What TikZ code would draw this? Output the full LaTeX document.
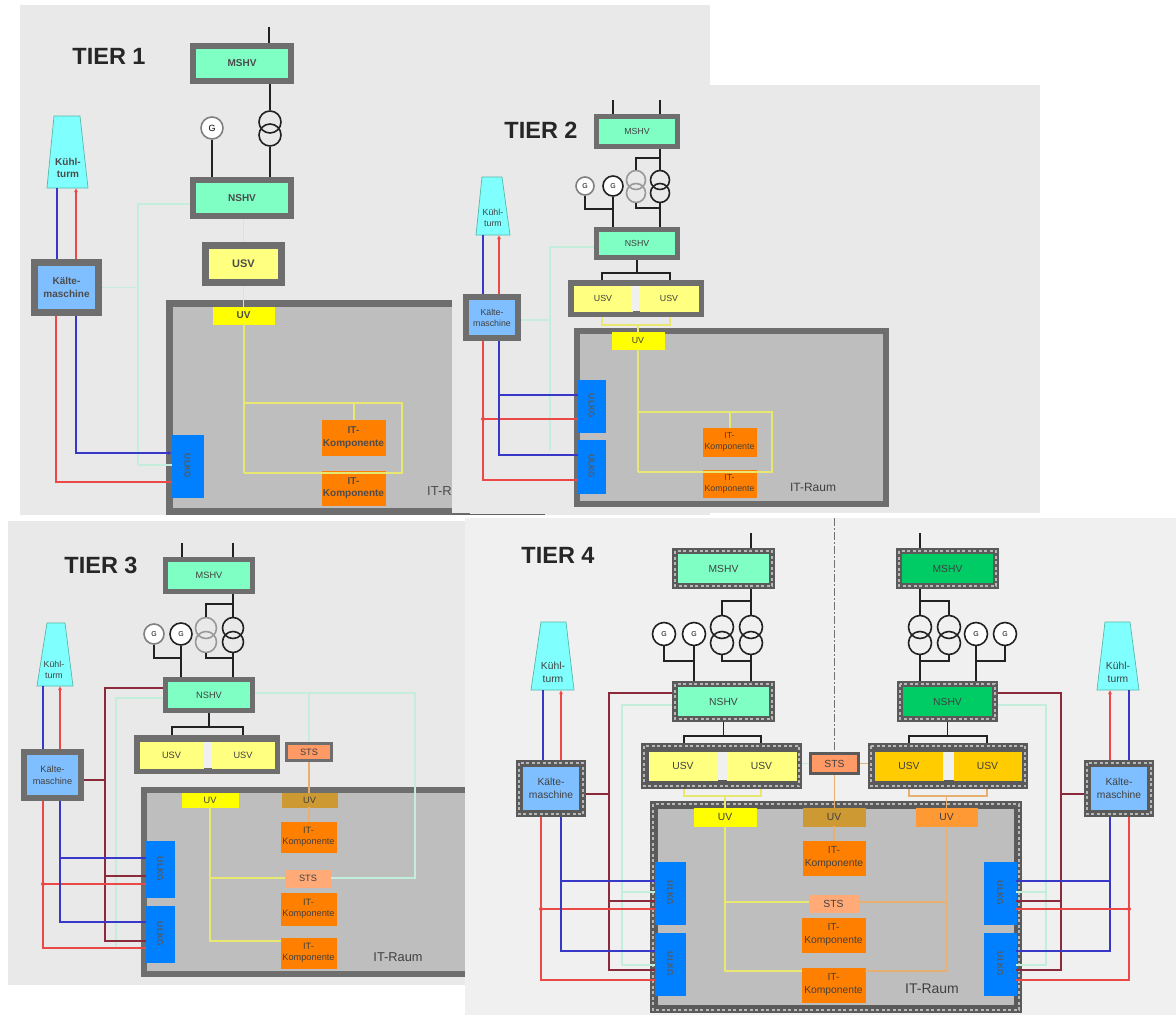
\documentclass[tikz,border=0pt]{standalone}
\usepackage{fontspec}
\setmainfont{Liberation Sans}
\usetikzlibrary{arrows.meta,calc,shapes.geometric}
\definecolor{pA}{HTML}{E9E9E9}
\definecolor{pB}{HTML}{F0F0F0}
\definecolor{frm}{HTML}{6E6E6E}
\definecolor{frmd}{HTML}{5A5A5A}
\definecolor{room}{HTML}{BEBEBE}
\definecolor{mint}{HTML}{7FFFC4}
\definecolor{dgreen}{HTML}{00CC66}
\definecolor{lyel}{HTML}{FFFF80}
\definecolor{yel}{HTML}{FFFF00}
\definecolor{gold}{HTML}{FFCC00}
\definecolor{brn}{HTML}{CC9933}
\definecolor{org}{HTML}{FF8000}
\definecolor{lorg}{HTML}{FF9933}
\definecolor{sal}{HTML}{FF9966}
\definecolor{lsal}{HTML}{FFAA77}
\definecolor{coolb}{HTML}{0080FF}
\definecolor{kalt}{HTML}{80BFFF}
\definecolor{turm}{HTML}{80FFFF}
\definecolor{turmd}{HTML}{58B8A8}
\definecolor{wgreen}{HTML}{C4EEDC}
\definecolor{wyel}{HTML}{E8E870}
\definecolor{worg}{HTML}{E8B070}
\definecolor{wred}{HTML}{EC4848}
\definecolor{wblue}{HTML}{3838C8}
\definecolor{wbrn}{HTML}{8B2A3A}
\definecolor{wblk}{HTML}{222222}
\tikzset{
 panelA/.style={fill=pA,draw=none},
 panelB/.style={fill=pB,draw=none},
 tierlabel/.style={font=\bfseries\fontsize{23.5}{25}\selectfont,text=black!85,inner sep=0pt},
 lblA/.style={font=\bfseries\fontsize{10}{12.5}\selectfont,text=black!70,align=center,inner sep=0pt},
 lblB/.style={font=\fontsize{8.8}{11}\selectfont,text=black!75,align=center,inner sep=0pt},
 lblC/.style={font=\fontsize{9.2}{11.5}\selectfont,text=black!75,align=center,inner sep=0pt},
 lblD/.style={font=\fontsize{10.3}{13}\selectfont,text=black!75,align=center,inner sep=0pt},
 ullbl/.style={font=\bfseries\fontsize{8.5}{9}\selectfont,text=black!65,inner sep=0pt},
 blk/.style={draw=wblk,line width=1.5pt},
 gw/.style={draw=wgreen,line width=1.7pt},
 yw/.style={draw=wyel,line width=2pt},
 ow/.style={draw=worg,line width=1.7pt},
 rw/.style={draw=wred,line width=1.5pt},
 bw/.style={draw=wblue,line width=1.5pt},
 dw/.style={draw=wbrn,line width=1.4pt},
 up/.style={-{Latex[length=4pt,width=4pt]}},
 gen/.style={circle,draw=#1,line width=1.6pt,fill=white,inner sep=0pt},
 gen/.default=wblk,
 trf/.style={circle,draw=#1,line width=1.6pt,inner sep=0pt},
 trf/.default=wblk,
 ktower/.style={fill=turm,draw=turmd,line width=.7pt},
 hatch/.style={draw=black!28,line width=1.3pt,dash pattern=on 3pt off 2.5pt}
}
\newcommand{\bx}[9]{\pgfmathsetmacro{\bxw}{#4-#2-#6}\pgfmathsetmacro{\bxh}{#5-#3-#6}%
 \pgfmathsetmacro{\bxcx}{(#2+#4)/2}\pgfmathsetmacro{\bxcy}{(#3+#5)/2}%
 \node[rectangle,draw=#7,line width=#6pt,fill=#8,minimum width=\bxw pt,minimum height=\bxh pt,inner sep=0pt,#9] (#1) at (\bxcx,\bxcy)}
\newcommand{\ulk}[5]{\bx{#1}{#2}{#3}{#4}{#5}{0}{coolb}{coolb}{}{};
 \node[ullbl,rotate=-90] (#1l) at (#1) {ULKG};}
\newcommand{\htc}[1]{\draw[hatch] ([xshift=3pt,yshift=-3pt]#1.north west) rectangle ([xshift=-3pt,yshift=3pt]#1.south east);}
\begin{document}
\begin{tikzpicture}[x=1pt,y=-1pt]
\useasboundingbox (0,0) rectangle (1176,1015);
\fill[white] (0,0) rectangle (1176,1015);
% ========== TIER 1 ==========
\fill[panelA] (20,5) rectangle (710,515);
\node[tierlabel] (t1lab) at (109,56) {TIER 1};
\bx{t1room}{166}{300}{470}{515}{7}{frm}{room}{}{};
\node[lblA,font=\fontsize{13}{14}\selectfont,anchor=west] (t1rl) at (427,491) {IT-Raum};
\bx{t1ms}{190}{43}{294}{84}{6}{frm}{mint}{lblA}{MSHV};
\bx{t1ns}{190}{177}{294}{219}{6}{frm}{mint}{lblA}{NSHV};
\bx{t1us}{202}{242}{285}{286}{7}{frm}{lyel}{lblA,font=\bfseries\fontsize{11}{12}\selectfont}{USV};
\bx{t1uv}{213}{307}{274}{324}{0}{yel}{yel}{lblA}{UV};
\ulk{t1ul}{172}{435}{203}{497}
\bx{t1it1}{322}{420}{385}{455}{0}{org}{org}{lblA}{IT-\\Komponente};
\bx{t1it2}{322}{471}{385}{505}{0}{org}{org}{lblA}{IT-\\Komponente};
\bx{t1ka}{31}{259}{102}{316}{7}{frm}{kalt}{lblA}{Kälte-\\maschine};
\filldraw[ktower] (54,116) -- (80,116) -- (88,188) -- (47,188) -- cycle;
\node[lblA] (t1ku) at (68,168) {Kühl-\\turm};
\coordinate (t1in) at (269,27);
\node[gen=black!50,minimum size=22pt] (t1g) at (212,128) {\fontsize{9}{9}\selectfont G};
\node[trf,minimum size=22pt] (t1ta) at (270,122) {};
\node[trf,minimum size=22pt] (t1tb) at (270,135) {};
\draw[blk] (t1in) -- (t1in |- t1ms.north);
\draw[blk] (t1ms.south -| t1ta) -- (t1ta.north);
\draw[blk] (t1tb.south) -- (t1ns.north -| t1tb);
\draw[blk] (t1g.south) -- (t1ns.north -| t1g);
\draw[gw] (t1ns.south -| t1uv) -- (t1us.north -| t1uv);
\draw[gw] (t1us.south -| t1uv) -- (t1uv.north);
\draw[gw] (t1ns.west |- 0,204) -- (138,204) -- (138,465) -- (t1ul.west |- 0,465);
\draw[gw] (t1ka.east) -- (t1ka.east -| 138,0);
\draw[bw] (57,188) -- (t1ka.north -| 57,0);
\draw[rw,up] (t1ka.north -| 76,0) -- (76,188);
\draw[rw] (t1ka.south -| 56,0) -- (56,482) -- (t1ul.west |- 0,482);
\draw[bw,up] (t1ka.south -| 76,0) -- (76,453) -- (t1ul.west |- 0,453);
\draw[yw] (t1uv.south) -- (t1uv.south |- 0,473);
\draw[yw] (t1uv.south |- 0,473) -- (402,473) -- (402,403) -- (t1uv.south |- 0,403);
\draw[yw] (t1it1.north |- 0,403) -- (t1it1.north);
% ========== TIER 2 ==========
\fill[panelA] (452,85) rectangle (1040,513);
\draw[wblk!70,line width=1pt] (452,514) -- (545,514);
\node[tierlabel] (t2lab) at (541,130) {TIER 2};
\bx{t2room}{574}{328}{889}{507}{6}{frm}{room}{}{};
\node[lblB,font=\fontsize{12}{13}\selectfont] (t2rl) at (813,487) {IT-Raum};
\bx{t2ms}{594}{114}{680}{149}{5}{frm}{mint}{lblB}{MSHV};
\bx{t2ns}{594}{227}{680}{260}{5}{frm}{mint}{lblB}{NSHV};
\bx{t2ug}{568}{280}{704}{317}{6}{frm}{frm}{}{};
\bx{t2u1}{574}{286}{632}{311}{0}{lyel}{lyel}{lblB}{USV};
\bx{t2u2}{640}{286}{698}{311}{0}{lyel}{lyel}{lblB}{USV};
\fill[pB] (632,286) rectangle (640,311);
\bx{t2uv}{612}{332}{664}{349}{0}{yel}{yel}{lblB}{UV};
\ulk{t2ul1}{578}{380}{605}{432}
\ulk{t2ul2}{578}{440}{605}{493}
\bx{t2it1}{703}{428}{756}{456}{0}{org}{org}{lblB}{IT-\\Komponente};
\bx{t2it2}{703}{470}{756}{497}{0}{org}{org}{lblB}{IT-\\Komponente};
\bx{t2ka}{463}{294}{521}{341}{6}{frm}{kalt}{lblB}{Kälte-\\maschine};
\filldraw[ktower] (482,177) -- (502,177) -- (510,235) -- (476,235) -- cycle;
\node[lblB] (t2ku) at (493,218) {Kühl-\\turm};
\coordinate (t2in1) at (613,100);
\coordinate (t2in2) at (660,100);
\node[gen=black!50,minimum size=18pt] (t2g1) at (585,186) {\fontsize{7}{7}\selectfont G};
\node[gen,minimum size=20pt] (t2g2) at (613,186) {\fontsize{7}{7}\selectfont G};
\node[trf=black!40,minimum size=19pt] (t2ta1) at (636,180) {};
\node[trf=black!40,minimum size=19pt] (t2tb1) at (636,193) {};
\node[trf,minimum size=19pt] (t2ta2) at (660,180) {};
\node[trf,minimum size=19pt] (t2tb2) at (660,193) {};
\draw[blk] (t2in1) -- (t2ms.north -| t2in1);
\draw[blk] (t2in2) -- (t2ms.north -| t2in2);
\draw[blk] (t2ms.south -| t2ta2) -- (t2ta2.north);
\draw[blk,line width=1.2pt] (t2ta2.north |- 0,158) -- (t2ta1.north |- 0,158) -- (t2ta1.north);
\draw[blk] (t2tb2.south) -- (t2ns.north -| t2tb2);
\draw[blk,line width=1.2pt] (t2tb1.south) -- (t2tb1.south |- 0,208) -- (t2tb2.south |- 0,208);
\draw[blk] (t2g2.south) -- (t2ns.north -| t2g2);
\draw[blk,line width=1.2pt] (t2g1.south) -- (t2g1.south |- 0,209) -- (t2g2.south |- 0,209);
\draw[blk] (t2ns.south) -- (t2ns.south |- 0,273);
\draw[blk,line width=1.2pt] (t2ug.north -| 602,0) -- (602,273) -- (670,273) -- (t2ug.north -| 670,0);
\draw[yw] (t2ug.south -| 602,0) -- (602,325) -- (670,325) -- (t2ug.south -| 670,0);
\draw[yw] (t2uv.north |- 0,325) -- (t2uv.north);
\draw[yw] (t2uv.south) -- (t2uv.south |- 0,472);
\draw[yw] (t2uv.south |- 0,472) -- (772,472) -- (772,412) -- (t2uv.south |- 0,412);
\draw[yw] (t2it1.north |- 0,412) -- (t2it1.north);
\draw[gw] (t2ns.west |- 0,247) -- (550,247) -- (550,450);
\draw[gw] (t2ka.east |- 0,320) -- (550,320);
\draw[bw] (483,235) -- (t2ka.north -| 483,0);
\draw[rw,up] (t2ka.north -| 499,0) -- (499,235);
\draw[rw] (t2ka.south -| 483,0) -- (483,480) -- (t2ul2.west |- 0,480);
\draw[rw] (t2ul1.west |- 0,419) -- (483,419);
\fill[wred] (483,419) circle (2pt);
\draw[bw] (t2ka.south -| 499,0) -- (499,455) -- (t2ul2.west |- 0,455);
\draw[bw] (499,395) -- (t2ul1.west |- 0,395);
% ========== TIER 3 ==========
\fill[panelA] (8,521) rectangle (710,985);
\node[tierlabel] (t3lab) at (101,565) {TIER 3};
\bx{t3room}{141}{787}{480}{977}{6}{frm}{room}{}{};
\node[lblC,font=\fontsize{12.8}{14}\selectfont] (t3rl) at (398,957) {IT-Raum};
\bx{t3ms}{163}{557}{255}{594}{5}{frm}{mint}{lblC}{MSHV};
\bx{t3ns}{163}{677}{255}{713}{5}{frm}{mint}{lblC}{NSHV};
\bx{t3ug}{134}{735}{280}{774}{6}{frm}{frm}{}{};
\bx{t3u1}{140}{742}{203}{768}{0}{lyel}{lyel}{lblC}{USV};
\bx{t3u2}{212}{742}{274}{768}{0}{lyel}{lyel}{lblC}{USV};
\fill[pB] (203,742) rectangle (212,768);
\bx{t3st}{285}{742}{333}{762}{3}{frm}{sal}{lblC}{STS};
\bx{t3uv}{182}{793}{238}{807}{0}{yel}{yel}{lblC}{UV};
\bx{t3uv2}{282}{793}{337}{807}{0}{brn}{brn}{lblC}{UV};
\bx{t3it1}{281}{822}{336}{852}{0}{org}{org}{lblC}{IT-\\Komponente};
\bx{t3st2}{285}{870}{331}{887}{0}{lsal}{lsal}{lblC}{STS};
\bx{t3it2}{281}{893}{336}{925}{0}{org}{org}{lblC}{IT-\\Komponente};
\bx{t3it3}{281}{938}{336}{968}{0}{org}{org}{lblC}{IT-\\Komponente};
\ulk{t3ul1}{146}{841}{174}{897}
\ulk{t3ul2}{146}{906}{174}{962}
\bx{t3ka}{21}{749}{84}{801}{6}{frm}{kalt}{lblC}{Kälte-\\maschine};
\filldraw[ktower] (47,623) -- (65,623) -- (73,686) -- (37,686) -- cycle;
\node[lblB] (t3ku) at (54,670) {Kühl-\\turm};
\coordinate (t3in1) at (182,543);
\coordinate (t3in2) at (233,543);
\node[gen=black!50,minimum size=20pt] (t3g1) at (154,634) {\fontsize{7}{7}\selectfont G};
\node[gen,minimum size=22pt] (t3g2) at (181,634) {\fontsize{7}{7}\selectfont G};
\node[trf=black!40,minimum size=21pt] (t3ta1) at (206,628) {};
\node[trf=black!40,minimum size=21pt] (t3tb1) at (206,642) {};
\node[trf,minimum size=21pt] (t3ta2) at (233,628) {};
\node[trf,minimum size=21pt] (t3tb2) at (233,642) {};
\draw[blk] (t3in1) -- (t3ms.north -| t3in1);
\draw[blk] (t3in2) -- (t3ms.north -| t3in2);
\draw[blk] (t3ms.south -| t3ta2) -- (t3ta2.north);
\draw[blk,line width=1.2pt] (t3ta2.north |- 0,604) -- (t3ta1.north |- 0,604) -- (t3ta1.north);
\draw[blk] (t3tb2.south) -- (t3ns.north -| t3tb2);
\draw[blk,line width=1.2pt] (t3tb1.south) -- (t3tb1.south |- 0,658) -- (t3tb2.south |- 0,658);
\draw[blk] (t3g2.south) -- (t3ns.north -| t3g2);
\draw[blk,line width=1.2pt] (t3g1.south) -- (t3g1.south |- 0,658) -- (t3g2.south |- 0,658);
\draw[blk] (t3ns.south) -- (t3ns.south |- 0,727);
\draw[blk,line width=1.2pt] (t3ug.north -| 172,0) -- (172,727) -- (243,727) -- (t3ug.north -| 243,0);
\draw[gw] (t3ns.east |- 0,693) -- (415,693) -- (415,878) -- (t3st2.east |- 0,878);
\draw[gw] (t3st.north |- 0,693) -- (t3st.north);
\draw[gw] (t3ns.west |- 0,698) -- (116,698) -- (116,948);
\draw[ow] (t3st.south) -- (t3st.south |- t3uv2.north);
\draw[ow] (t3st.south |- t3uv2.south) -- (t3st.south |- t3it1.north);
\draw[yw] (t3uv.south) -- (t3uv.south |- 0,941) -- (t3it3.west |- 0,941);
\draw[yw] (t3uv.south |- 0,878) -- (t3st2.west |- 0,878);
\draw[dw] (t3ns.west |- 0,688) -- (105,688) -- (105,941) -- (t3ul2.west |- 0,941);
\draw[dw] (t3ka.east |- 0,780) -- (105,780);
\draw[dw] (105,876) -- (t3ul1.west |- 0,876);
\draw[bw] (43,686) -- (t3ka.north -| 43,0);
\draw[rw,up] (t3ka.north -| 60,0) -- (60,686);
\draw[rw] (t3ka.south -| 43,0) -- (43,948) -- (t3ul2.west |- 0,948);
\draw[rw] (t3ul1.west |- 0,884) -- (43,884);
\fill[wred] (43,884) circle (2pt);
\draw[bw] (t3ka.south -| 60,0) -- (60,922) -- (t3ul2.west |- 0,922);
\draw[bw] (60,858) -- (t3ul1.west |- 0,858);
% ========== TIER 4 ==========
\fill[panelB] (465,518) rectangle (1176,1015);
\node[tierlabel] (t4lab) at (558,555) {TIER 4};
\draw[black!55,line width=.9pt,dash pattern=on 8pt off 2pt on 2pt off 2pt] (834,518) -- (834,752);
\bx{t4room}{650}{801}{1022}{1013}{8}{frmd}{room}{}{};
\htc{t4room}
\node[lblD,font=\fontsize{14}{15}\selectfont] (t4rl) at (932,989) {IT-Raum};
\bx{t4msl}{672}{548}{775}{589}{6}{frmd}{mint}{lblD}{MSHV};
\htc{t4msl}
\bx{t4msr}{896}{548}{999}{589}{6}{frmd}{dgreen}{lblD}{MSHV};
\htc{t4msr}
\bx{t4nsl}{672}{681}{775}{722}{6}{frmd}{mint}{lblD}{NSHV};
\htc{t4nsl}
\bx{t4nsr}{897}{681}{998}{722}{6}{frmd}{dgreen}{lblD}{NSHV};
\htc{t4nsr}
\bx{t4ugl}{641}{743}{802}{789}{7}{frmd}{frmd}{}{};
\htc{t4ugl}
\bx{t4u1}{649}{752}{717}{780}{0}{lyel}{lyel}{lblD}{USV};
\bx{t4u2}{727}{752}{796}{780}{0}{lyel}{lyel}{lblD}{USV};
\fill[pB] (717,752) rectangle (727,780);
\bx{t4ugr}{868}{743}{1028}{789}{7}{frmd}{frmd}{}{};
\htc{t4ugr}
\bx{t4u3}{875}{752}{943}{780}{0}{gold}{gold}{lblD}{USV};
\bx{t4u4}{954}{752}{1021}{780}{0}{gold}{gold}{lblD}{USV};
\fill[pB] (943,752) rectangle (954,780);
\bx{t4st}{809}{752}{860}{775}{3}{frmd}{sal}{lblD}{STS};
\bx{t4uv1}{694}{808}{756}{826}{0}{yel}{yel}{lblD}{UV};
\bx{t4uv2}{803}{808}{865}{826}{0}{brn}{brn}{lblD}{UV};
\bx{t4uv3}{916}{808}{977}{826}{0}{lorg}{lorg}{lblD}{UV};
\bx{t4it1}{803}{841}{865}{875}{0}{org}{org}{lblD}{IT-\\Komponente};
\bx{t4st2}{809}{895}{858}{912}{0}{lsal}{lsal}{lblD}{STS};
\bx{t4it2}{802}{918}{865}{952}{0}{org}{org}{lblD}{IT-\\Komponente};
\bx{t4it3}{802}{968}{865}{1002}{0}{org}{org}{lblD}{IT-\\Komponente};
\ulk{t4ul1}{655}{862}{685}{924}
\ulk{t4ul2}{655}{933}{685}{995}
\ulk{t4ur1}{984}{862}{1016}{924}
\ulk{t4ur2}{984}{933}{1016}{995}
\bx{t4kal}{516}{760}{586}{817}{7}{frmd}{kalt}{lblD}{Kälte-\\maschine};
\htc{t4kal}
\bx{t4kar}{1084}{760}{1154}{817}{7}{frmd}{kalt}{lblD}{Kälte-\\maschine};
\htc{t4kar}
\filldraw[ktower] (541,622) -- (566,622) -- (574,690) -- (531,690) -- cycle;
\node[lblD] (t4kul) at (553,672) {Kühl-\\turm};
\filldraw[ktower] (1105,622) -- (1130,622) -- (1139,690) -- (1097,690) -- cycle;
\node[lblD] (t4kur) at (1118,672) {Kühl-\\turm};
\coordinate (t4inl) at (751,533);
\coordinate (t4inr) at (920,533);
\node[gen,minimum size=23pt] (t4g1) at (664,634) {\fontsize{7}{7}\selectfont G};
\node[gen,minimum size=23pt] (t4g2) at (694,634) {\fontsize{7}{7}\selectfont G};
\node[gen,minimum size=23pt] (t4g3) at (976,634) {\fontsize{7}{7}\selectfont G};
\node[gen,minimum size=23pt] (t4g4) at (1005,634) {\fontsize{7}{7}\selectfont G};
\node[trf,minimum size=23pt] (t4ta1) at (722,627) {};
\node[trf,minimum size=23pt] (t4tb1) at (722,643) {};
\node[trf,minimum size=23pt] (t4ta2) at (751,627) {};
\node[trf,minimum size=23pt] (t4tb2) at (751,643) {};
\node[trf,minimum size=23pt] (t4ta3) at (920,627) {};
\node[trf,minimum size=23pt] (t4tb3) at (920,643) {};
\node[trf,minimum size=23pt] (t4ta4) at (949,627) {};
\node[trf,minimum size=23pt] (t4tb4) at (949,643) {};
\draw[blk] (t4inl) -- (t4msl.north -| t4inl);
\draw[blk] (t4inr) -- (t4msr.north -| t4inr);
\draw[blk] (t4msl.south -| t4ta2) -- (t4ta2.north);
\draw[blk] (t4ta2.north |- 0,601) -- (t4ta1.north |- 0,601) -- (t4ta1.north);
\draw[blk] (t4tb2.south) -- (t4nsl.north -| t4tb2);
\draw[blk] (t4tb1.south) -- (t4tb1.south |- 0,661) -- (t4tb2.south |- 0,661);
\draw[blk] (t4g2.south) -- (t4nsl.north -| t4g2);
\draw[blk] (t4g1.south) -- (t4g1.south |- 0,661) -- (t4g2.south |- 0,661);
\draw[blk] (t4nsl.south) -- (t4nsl.south |- 0,736);
\draw[blk] (t4ugl.north -| 684,0) -- (684,736) -- (761,736) -- (t4ugl.north -| 761,0);
\draw[blk] (t4msr.south -| t4ta3) -- (t4ta3.north);
\draw[blk] (t4ta3.north |- 0,601) -- (t4ta4.north |- 0,601) -- (t4ta4.north);
\draw[blk] (t4tb3.south) -- (t4nsr.north -| t4tb3);
\draw[blk] (t4tb4.south) -- (t4tb4.south |- 0,661) -- (t4tb3.south |- 0,661);
\draw[blk] (t4g3.south) -- (t4nsr.north -| t4g3);
\draw[blk] (t4g4.south) -- (t4g4.south |- 0,661) -- (t4g3.south |- 0,661);
\draw[blk] (t4nsr.south) -- (t4nsr.south |- 0,736);
\draw[blk] (t4ugr.north -| 909,0) -- (909,736) -- (987,736) -- (t4ugr.north -| 987,0);
\draw[yw] (t4ugl.south -| 684,0) -- (684,796) -- (761,796) -- (t4ugl.south -| 761,0);
\draw[yw] (t4uv1.north |- 0,796) -- (t4uv1.north);
\draw[ow] (t4ugr.south -| 909,0) -- (909,796) -- (987,796) -- (t4ugr.south -| 987,0);
\draw[ow] (t4uv3.north |- 0,796) -- (t4uv3.north);
\draw[ow] (t4st.south) -- (t4st.south |- t4uv2.north);
\draw[ow] (t4uv2.south) -- (t4it1.north);
\draw[gw] (t4ugl.east |- t4st.west) -- (t4st.west);
\draw[ow] (t4st.east) -- (t4ugr.west |- t4st.east);
\draw[yw] (t4uv1.south) -- (t4uv1.south |- 0,971) -- (t4it3.west |- 0,971);
\draw[yw] (t4uv1.south |- 0,902) -- (t4st2.west |- 0,902);
\draw[ow] (t4uv3.south) -- (t4uv3.south |- 0,971) -- (t4it3.east |- 0,971);
\draw[ow] (t4uv3.south |- 0,902) -- (t4st2.east |- 0,902);
\draw[gw] (t4nsl.west |- 0,705) -- (622,705) -- (622,965) -- (t4ul2.west |- 0,965);
\draw[gw] (622,892) -- (t4ul1.west |- 0,892);
\draw[gw] (t4nsr.east |- 0,705) -- (1046,705) -- (1046,965) -- (t4ur2.east |- 0,965);
\draw[gw] (1046,892) -- (t4ur1.east |- 0,892);
\draw[dw] (t4nsl.west |- 0,693) -- (609,693) -- (609,970) -- (t4ul2.west |- 0,970);
\draw[dw] (t4kal.east |- 0,794) -- (609,794);
\draw[dw] (609,901) -- (t4ul1.west |- 0,901);
\draw[dw] (t4nsr.east |- 0,693) -- (1061,693) -- (1061,970) -- (t4ur2.east |- 0,970);
\draw[dw] (t4kar.west |- 0,794) -- (1061,794);
\draw[dw] (1061,901) -- (t4ur1.east |- 0,901);
\draw[bw] (543,690) -- (t4kal.north -| 543,0);
\draw[rw,up] (t4kal.north -| 561,0) -- (561,690);
\draw[rw] (t4kal.south -| 541,0) -- (541,980) -- (t4ul2.west |- 0,980);
\draw[rw] (t4ul1.west |- 0,909) -- (541,909);
\fill[wred] (541,909) circle (2pt);
\draw[bw] (t4kal.south -| 561,0) -- (561,951) -- (t4ul2.west |- 0,951);
\draw[bw] (561,881) -- (t4ul1.west |- 0,881);
\draw[rw,up] (t4kar.north -| 1110,0) -- (1110,690);
\draw[bw] (1129,690) -- (t4kar.north -| 1129,0);
\draw[bw] (t4kar.south -| 1110,0) -- (1110,951) -- (t4ur2.east |- 0,951);
\draw[bw] (1110,881) -- (t4ur1.east |- 0,881);
\draw[rw] (t4kar.south -| 1129,0) -- (1129,980) -- (t4ur2.east |- 0,980);
\draw[rw] (t4ur1.east |- 0,909) -- (1129,909);
\fill[wred] (1129,909) circle (2pt);
\end{tikzpicture}
\end{document}
